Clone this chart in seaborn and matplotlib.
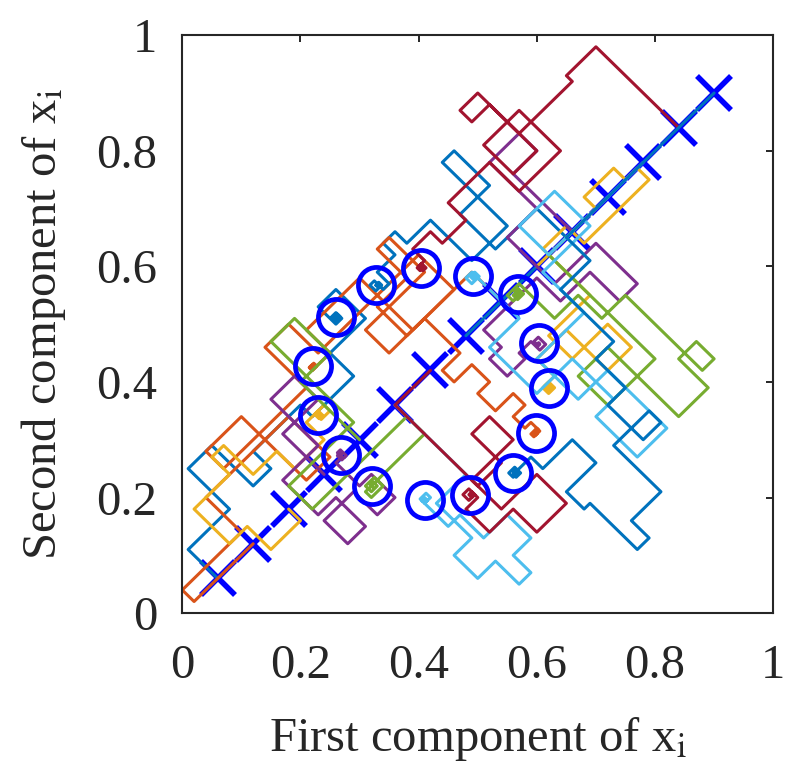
import numpy as np
import pandas as pd
import seaborn as sns
import matplotlib.pyplot as plt

# start points (the X markers) lie on the diagonal x = y
start_pos = [0.06, 0.12, 0.18, 0.24, 0.30, 0.36, 0.42, 0.48,
             0.54, 0.60, 0.66, 0.72, 0.78, 0.84, 0.90]

# end points (the O markers), same order as the paths
end_x = [0.260, 0.221, 0.230, 0.268, 0.321, 0.410, 0.487, 0.328,
         0.598, 0.620, 0.604, 0.568, 0.492, 0.404, 0.560]
end_y = [0.512, 0.427, 0.343, 0.273, 0.220, 0.195, 0.204, 0.567,
         0.311, 0.389, 0.467, 0.552, 0.583, 0.598, 0.243]

# trajectories, in rotated coords u = x + y, v = y - x
# format: u0, v0, then new v, new u, new v, ... (moves alternate)
path00 = [0.12, 0, 0.10, 0.26, 0.24, 0.34, 0.10, 0.40, 0.16, 0.56, 0.12, 0.70, 0.20, 0.82,
          0.30, 0.76, 0.24, 0.78, 0.26, 0.765, 0.245, 0.78, 0.255, 0.768, 0.248, 0.774,
          0.252, 0.772]
path01 = [0.24, 0, 0, 0.04, 0.04, 0.24, 0.16, 0.52, 0.02, 0.44, 0.24, 0.32, 0.18, 0.60,
          0.32, 0.68, 0.22, 1.02, 0.10, 0.88, 0.28, 0.70, 0.20, 0.64, 0.21, 0.655,
          0.20, 0.64, 0.21, 0.648, 0.202, 0.652, 0.206, 0.648]
path02 = [0.36, 0, -0.04, 0.26, 0.04, 0.20, 0.16, 0.32, 0.22, 0.36, 0.12, 0.44, 0.06, 0.54,
          0.12, 0.60, 0.10, 0.57, 0.12, 0.58, 0.105, 0.568, 0.115, 0.575, 0.11, 0.573, 0.113]
path03 = [0.48, 0, 0.14, 0.60, 0.22, 0.52, 0.06, 0.40, -0.06, 0.46, -0.16, 0.40, -0.08, 0.50,
          -0.16, 0.56, -0.08, 0.52, 0.0, 0.54, 0.015, 0.55, -0.005, 0.535, 0.01, 0.545,
          0.005, 0.541]
path04 = [0.60, 0, 0.20, 0.70, 0.32, 0.62, 0.04, 0.40, -0.04, 0.72, -0.10, 0.52, -0.12, 0.56,
          -0.09, 0.53, -0.11, 0.55, -0.095, 0.54, -0.105, 0.541, -0.101]
path05 = [0.72, 0, -0.24, 0.62, -0.36, 0.56, -0.44, 0.62, -0.52, 0.66, -0.46, 0.72, -0.38, 0.64,
          -0.30, 0.60, -0.22, 0.62, -0.205, 0.60, -0.22, 0.61, -0.21, 0.60, -0.215, 0.605]
path06 = [0.84, 0, 0, 0.72, -0.28, 0.80, -0.18, 0.86, -0.26, 0.72, -0.36, 0.84, -0.46, 0.74,
          -0.38, 0.66, -0.30, 0.70, -0.27, 0.68, -0.29, 0.70, -0.28, 0.69, -0.29, 0.695,
          -0.283, 0.691]
path07 = [0.96, 0, 0, 1.30, 0.10, 1.16, 0.22, 1.26, 0.34, 1.22, 0.12, 1.10, 0.26, 1.02,
          0.30, 0.98, 0.26, 0.92, 0.22, 0.90, 0.25, 0.885, 0.23, 0.905, 0.24, 0.895,
          0.235, 0.90, 0.239, 0.895]
path08 = [1.08, 0, 0.10, 0.80, 0.18, 1.00, 0.30, 0.96, 0.20, 0.86, 0.10, 0.92, -0.02, 0.86,
          -0.06, 0.92, -0.12, 0.88, -0.18, 0.94, -0.22, 0.90, -0.26, 0.92, -0.29, 0.90,
          -0.28, 0.92, -0.285, 0.905, -0.29, 0.912, -0.287, 0.909]
path09 = [1.20, 0, 0, 1.40, 0.04, 1.50, 0.0, 1.54, -0.04, 1.32, 0.02, 1.24, -0.14, 1.10,
          -0.22, 1.22, -0.30, 1.14, -0.16, 1.04, -0.22, 1.00, -0.24, 1.02, -0.22, 1.005,
          -0.235, 1.015, -0.225, 1.009, -0.231]
path10 = [1.32, 0, 0.20, 1.40, 0.26, 1.30, 0.10, 1.20, -0.06, 1.34, -0.20, 1.28, -0.10, 1.18,
          -0.02, 1.00, -0.08, 0.96, -0.14, 1.02, -0.12, 1.06, -0.15, 1.08, -0.125, 1.065,
          -0.14, 1.07, -0.135, 1.071, -0.137]
path11 = [1.44, 0, 0, 1.24, -0.36, 1.08, -0.26, 1.18, -0.50, 1.28, -0.40, 1.34, -0.46, 1.30,
          -0.20, 1.22, -0.12, 1.14, 0.0, 1.10, -0.02, 1.12, -0.005, 1.13, -0.025, 1.11,
          -0.01, 1.125, -0.02, 1.115, -0.016, 1.12]
path12 = [1.56, 0, 0, 1.24, 0.10, 1.36, -0.02, 1.20, -0.16, 1.04, -0.30, 1.14, -0.50, 1.04,
          -0.36, 1.10, -0.22, 0.98, -0.06, 1.08, 0.10, 1.06, 0.08, 1.085, 0.095, 1.07,
          0.085, 1.075, 0.091]
path13 = [1.68, 0, 0.28, 1.58, 0.26, 1.40, 0.40, 1.34, 0.36, 1.40, 0.20, 1.32, 0.30, 1.44,
          0.16, 1.30, 0.26, 1.16, 0.20, 1.08, 0.24, 1.02, 0.20, 1.00, 0.185, 1.01, 0.20,
          0.995, 0.19, 1.005, 0.195, 1.002, 0.194]
path14 = [1.80, 0, 0, 1.30, -0.08, 1.20, -0.26, 1.14, -0.36, 1.08, -0.48, 1.14, -0.44, 1.02,
          -0.60, 0.92, -0.66, 0.88, -0.50, 0.86, -0.44, 0.96, -0.36, 0.86, -0.32, 0.80, -0.33,
          0.815, -0.31, 0.795, -0.325, 0.81, -0.317, 0.803]

paths = [path00, path01, path02, path03, path04, path05, path06, path07,
         path08, path09, path10, path11, path12, path13, path14]

matlab_colors = ['#0072BD', '#D95319', '#EDB120', '#7E2F8E', '#77AC30', '#4DBEEE', '#A2142F']


def staircase(vals):
    u, v = vals[0], vals[1]
    us, vs = [u], [v]
    for k, c in enumerate(vals[2:]):
        if k % 2 == 0:
            v = c
        else:
            u = c
        us.append(u)
        vs.append(v)
    us, vs = np.array(us), np.array(vs)
    return (us - vs) / 2, (us + vs) / 2


rows = []
for i, p in enumerate(paths):
    px, py = staircase(p)
    for j in range(len(px)):
        rows.append({'path': 'p%02d' % i, 'step': j, 'x': px[j], 'y': py[j]})
df = pd.DataFrame(rows)

names = ['p%02d' % i for i in range(len(paths))]
pal = {n: matlab_colors[i % 7] for i, n in enumerate(names)}

sns.set_theme(style='white')
plt.rcParams['font.family'] = ['Liberation Serif', 'DejaVu Serif']
plt.rcParams['mathtext.fontset'] = 'stix'

fig = plt.figure(figsize=(7.89, 7.83), dpi=100)
ax = fig.add_axes([0.231, 0.217, 0.749, 0.738])

# start markers sit under the trajectories, end markers on top
ax.plot(start_pos, start_pos, 'x', color='#0000FF', markersize=25, mew=4,
        linestyle='none', zorder=1)
sns.lineplot(data=df, x='x', y='y', hue='path', hue_order=names, palette=pal,
             sort=False, estimator=None, legend=False, lw=2.2, ax=ax, zorder=2)
ax.plot(end_x, end_y, 'o', color='#0000FF', mfc='none', markersize=26, mew=3.4,
        linestyle='none', zorder=5)

ax.set_xlim(0, 1)
ax.set_ylim(0, 1)
ax.set_xticks([0, 0.2, 0.4, 0.6, 0.8, 1])
ax.set_yticks([0, 0.2, 0.4, 0.6, 0.8, 1])
ax.set_xticklabels(['0', '0.2', '0.4', '0.6', '0.8', '1'])
ax.set_yticklabels(['0', '0.2', '0.4', '0.6', '0.8', '1'])
ax.tick_params(direction='in', length=5, width=1.4, colors='#262626', labelsize=35,
               top=True, right=True)
ax.tick_params(axis='x', pad=22)
ax.tick_params(axis='y', pad=18)
for s in ax.spines.values():
    s.set_color('#262626')
    s.set_linewidth(1.5)

ax.set_xlabel(r'First component of x$_\mathrm{i}$', fontsize=35, color='#262626', labelpad=20)
ax.set_ylabel(r'Second component of x$_\mathrm{i}$', fontsize=35, color='#262626', labelpad=20)

fig.savefig('out.png', dpi=100)
